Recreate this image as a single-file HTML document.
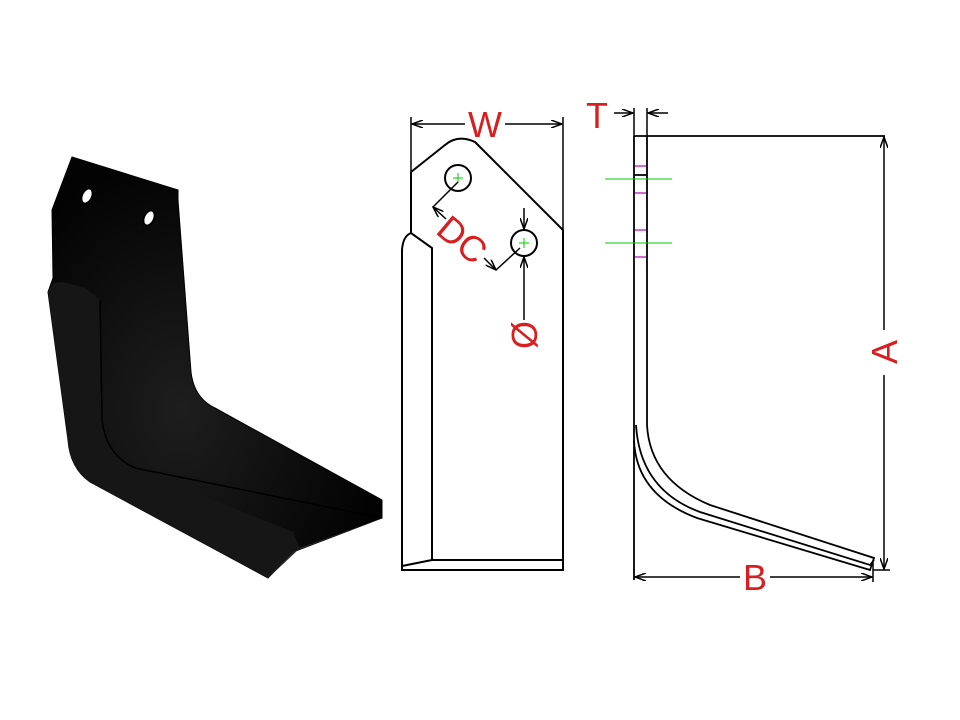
<!DOCTYPE html>
<html><head><style>body{margin:0;background:#fff}svg{display:block}</style></head><body>
<svg width="960" height="720" viewBox="0 0 960 720" xmlns="http://www.w3.org/2000/svg">
<defs>
<marker id="ar" markerWidth="12" markerHeight="8" refX="11" refY="4" orient="auto" markerUnits="userSpaceOnUse"><path d="M0,0 L11,4 L0,8" fill="none" stroke="#000" stroke-width="1.5"/></marker>
<radialGradient id="g" cx="0.4" cy="0.6" r="0.6"><stop offset="0" stop-color="#1e1e1e"/><stop offset="1" stop-color="#030303"/></radialGradient>
</defs>
<!-- 3D blade -->
<path d="M72,157 L178,190 L178,200 L191,372 Q194,398 215,408 L382,500 L382,518 L293,552 L268,578 L90,482 Q70,468 68,440 L48,292 L53,278 L52,210 Z" fill="url(#g)" stroke="#000"/>
<path d="M53,283 L63,282 L85,288 L100,300 L102,420 Q106,455 135,468 L293,532 L300,548 L268,578 L90,482 Q70,468 68,440 L48,292 Z" fill="#161616"/>
<path d="M100,300 L102,420 Q106,455 135,468 L382,518" fill="none" stroke="#000" stroke-width="1.5"/>
<path d="M293,552 L268,578 L300,548 L382,518" fill="#2a2a2a"/>
<ellipse cx="87" cy="196" rx="5" ry="8" transform="rotate(25 87 196)" fill="#fff" stroke="#000" stroke-width="2"/>
<ellipse cx="149" cy="218" rx="5" ry="8" transform="rotate(25 149 218)" fill="#fff" stroke="#000" stroke-width="2"/>
<g fill="none" stroke="#000" stroke-width="2">
<!-- front view -->
<path d="M411,172 L445,145 Q458,134 475,142 L563,230 V570 H402 V250 Q403,236 411,233 L432,248 V560 H563"/>
<line x1="411" y1="172" x2="411" y2="233"/>
<line x1="402" y1="566" x2="432" y2="560"/>
<circle cx="458" cy="178" r="13"/>
<circle cx="524" cy="243" r="13"/>
</g>
<g stroke="#00cc00" stroke-width="1"><line x1="453" y1="178" x2="463" y2="178"/><line x1="458" y1="173" x2="458" y2="183"/><line x1="519" y1="243" x2="529" y2="243"/><line x1="524" y1="238" x2="524" y2="248"/></g>
<g stroke="#000" stroke-width="1.5" fill="none">
<line x1="411" y1="172" x2="411" y2="117"/><line x1="563" y1="230" x2="563" y2="117"/>
<line x1="465" y1="124" x2="412" y2="124" marker-end="url(#ar)"/><line x1="505" y1="124" x2="562" y2="124" marker-end="url(#ar)"/>
<line x1="458" y1="182" x2="433" y2="207"/><line x1="446" y1="219" x2="433" y2="207" marker-end="url(#ar)"/>
<line x1="520" y1="248" x2="496" y2="270"/><line x1="484" y1="258" x2="496" y2="270" marker-end="url(#ar)"/>
<line x1="524" y1="208" x2="524" y2="229" marker-end="url(#ar)"/><line x1="524" y1="320" x2="524" y2="257" marker-end="url(#ar)"/>
</g>
<g stroke="#000" stroke-width="1.8" fill="none">
<!-- side view -->
<path d="M634,136 H647 H885 M634,136 V580 M647,136 V425 M634,175 H647"/>
<path d="M636,425 Q640,490 700,512 L870,565 L874,560 M647,425 Q650,480 710,505 L874,558 L870,570 L697,518 Q636,495 634,440"/>
</g>
<g stroke="#000" stroke-width="1.5" fill="none">
<line x1="614" y1="113" x2="633" y2="113" marker-end="url(#ar)"/><line x1="668" y1="113" x2="648" y2="113" marker-end="url(#ar)"/>
<line x1="634" y1="108" x2="634" y2="136"/><line x1="647" y1="108" x2="647" y2="136"/>
<line x1="884" y1="330" x2="884" y2="137" marker-end="url(#ar)"/><line x1="884" y1="375" x2="884" y2="569" marker-end="url(#ar)"/>
<line x1="873" y1="570" x2="890" y2="570"/><line x1="873" y1="562" x2="873" y2="582"/>
<line x1="740" y1="577" x2="635" y2="577" marker-end="url(#ar)"/><line x1="770" y1="577" x2="872" y2="577" marker-end="url(#ar)"/>
</g>
<g stroke="#00cc00" stroke-width="1"><line x1="605" y1="179" x2="672" y2="179"/><line x1="605" y1="243" x2="672" y2="243"/></g>
<g stroke="#cc33cc" stroke-width="1.5"><line x1="635" y1="166" x2="646" y2="166"/><line x1="635" y1="193" x2="646" y2="193"/><line x1="635" y1="230" x2="646" y2="230"/><line x1="635" y1="257" x2="646" y2="257"/></g>
<g fill="#d81e1e" font-family="Liberation Sans, sans-serif" font-size="36">
<text x="485" y="137" text-anchor="middle">W</text>
<text x="597" y="128" text-anchor="middle">T</text>
<text x="755" y="590" text-anchor="middle">B</text>
<text transform="translate(897,352) rotate(-90)" text-anchor="middle">A</text>
<text transform="translate(462,240) rotate(40)" text-anchor="middle" dy="12">DC</text>
<text transform="translate(537,335) rotate(-90)" text-anchor="middle">Ø</text>
</g>
</svg>
</body></html>
